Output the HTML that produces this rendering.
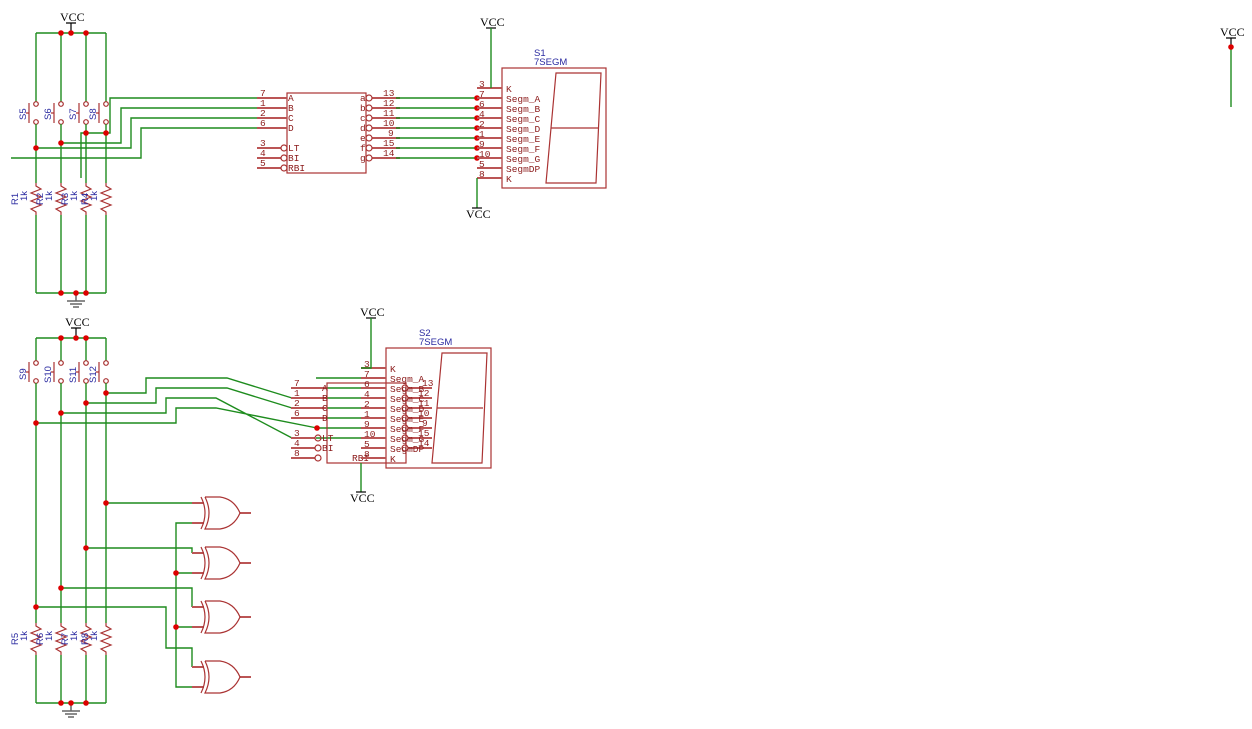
<!DOCTYPE html>
<html><head><meta charset="utf-8"><style>
html,body{margin:0;padding:0;background:#fff;}
svg{display:block;font-family:"Liberation Mono",monospace;}
.w{stroke:#1e8c1e;stroke-width:1.4;fill:none;}
.r{stroke:#a33;stroke-width:1.2;fill:none;}
.rl{stroke:#b55;stroke-width:2;fill:none;}
.k{stroke:#000;stroke-width:1.2;fill:none;}
.t{font-size:9.5px;fill:#8b1a1a;}
.v{font-family:"Liberation Serif",serif;font-size:12px;fill:#000;}
.b{font-family:"Liberation Sans",sans-serif;font-size:9.5px;fill:#2a2aa0;}
.d{fill:#d00;}
</style></head><body>
<svg width="1252" height="729" viewBox="0 0 1252 729" xmlns="http://www.w3.org/2000/svg">
<defs>
<g id="res"><path class="r" d="M0,0 V3 L5,6 L-5,10 L5,14 L-5,18 L5,22 L-5,26 L0,29 V32"/></g>
<g id="sw"><circle class="r" cx="0" cy="0" r="2.3" fill="#fff"/><circle class="r" cx="0" cy="18" r="2.3" fill="#fff"/><path class="r" d="M-7,-1 V19 M-10,9 H-7"/></g>
<g id="xor"><path class="rl" d="M0,-10 H12 M0,10 H12 M48,0 H59"/><path class="r" d="M9,-16 Q17,0 9,16 M13,-16 H28 Q42,-14 48,0 Q42,14 28,16 H13 Q21,0 13,-16"/></g>
<g id="gnd"><path d="M0,0 V8 M-9,8 H9 M-6,11 H6 M-3,14 H3" stroke="#666" stroke-width="1.5" fill="none"/></g>
</defs>

<!-- ===== TOP SECTION ===== -->
<text class="v" x="60" y="21">VCC</text>
<path class="k" d="M71,23 V33 M66,23 H76"/>
<path class="w" d="M36,33 H106 M36,33 V102 M61,33 V102 M86,33 V102 M106,33 V102"/>
<use href="#sw" x="36" y="104"/><use href="#sw" x="61" y="104"/><use href="#sw" x="86" y="104"/><use href="#sw" x="106" y="104"/>
<g class="b"><text transform="translate(26,120) rotate(-90)">S5</text><text transform="translate(51,120) rotate(-90)">S6</text><text transform="translate(76,120) rotate(-90)">S7</text><text transform="translate(96,120) rotate(-90)">S8</text></g>
<path class="w" d="M36,124 V183 M61,124 V183 M86,124 V183 M106,124 V183"/>
<use href="#res" x="36" y="183"/><use href="#res" x="61" y="183"/><use href="#res" x="86" y="183"/><use href="#res" x="106" y="183"/>
<g class="b"><text transform="translate(18,205) rotate(-90)">R1</text><text transform="translate(27,201) rotate(-90)">1k</text><text transform="translate(43,205) rotate(-90)">R2</text><text transform="translate(52,201) rotate(-90)">1k</text><text transform="translate(68,205) rotate(-90)">R3</text><text transform="translate(77,201) rotate(-90)">1k</text><text transform="translate(88,205) rotate(-90)">R4</text><text transform="translate(97,201) rotate(-90)">1k</text></g>
<path class="w" d="M36,215 V293 M61,215 V293 M86,215 V293 M106,215 V293 M36,293 H106"/>
<use href="#gnd" x="76" y="293"/>
<!-- bcd wires -->
<path class="w" d="M81,178 V133 H110 V98 H257 M61,143 H121 V108 H257 M36,148 H131 V118 H257 M11,158 H141 V128 H257"/>
<g class="d"><circle cx="61" cy="33" r="2.8"/><circle cx="71" cy="33" r="2.8"/><circle cx="86" cy="33" r="2.8"/><circle cx="86" cy="133" r="2.8"/><circle cx="106" cy="133" r="2.8"/><circle cx="61" cy="143" r="2.8"/><circle cx="36" cy="148" r="2.8"/><circle cx="61" cy="293" r="2.8"/><circle cx="76" cy="293" r="2.8"/><circle cx="86" cy="293" r="2.8"/></g>
<!-- IC1 -->
<rect class="r" x="287" y="93" width="79" height="80"/>
<path class="rl" d="M257,98 H287 M257,108 H287 M257,118 H287 M257,128 H287 M257,148 H281 M257,158 H281 M257,168 H281 M372,98 H400 M372,108 H400 M372,118 H400 M372,128 H400 M372,138 H400 M372,148 H400 M372,158 H400"/>
<g class="r" fill="#fff"><circle cx="284" cy="148" r="3"/><circle cx="284" cy="158" r="3"/><circle cx="284" cy="168" r="3"/><circle cx="369" cy="98" r="3"/><circle cx="369" cy="108" r="3"/><circle cx="369" cy="118" r="3"/><circle cx="369" cy="128" r="3"/><circle cx="369" cy="138" r="3"/><circle cx="369" cy="148" r="3"/><circle cx="369" cy="158" r="3"/></g>
<g class="t"><text x="260" y="96">7</text><text x="260" y="106">1</text><text x="260" y="116">2</text><text x="260" y="126">6</text><text x="260" y="146">3</text><text x="260" y="156">4</text><text x="260" y="166">5</text>
<text x="288" y="101">A</text><text x="288" y="111">B</text><text x="288" y="121">C</text><text x="288" y="131">D</text><text x="288" y="151">LT</text><text x="288" y="161">BI</text><text x="288" y="171">RBI</text>
<text x="360" y="101">a</text><text x="360" y="111">b</text><text x="360" y="121">c</text><text x="360" y="131">d</text><text x="360" y="141">e</text><text x="360" y="151">f</text><text x="360" y="161">g</text>
<text x="383" y="96">13</text><text x="383" y="106">12</text><text x="383" y="116">11</text><text x="383" y="126">10</text><text x="388" y="136">9</text><text x="383" y="146">15</text><text x="383" y="156">14</text></g>
<path class="w" d="M396,98 H477 M396,108 H477 M396,118 H477 M396,128 H477 M396,138 H477 M396,148 H477 M396,158 H477"/>
<g class="d"><circle cx="477" cy="98" r="2.8"/><circle cx="477" cy="108" r="2.8"/><circle cx="477" cy="118" r="2.8"/><circle cx="477" cy="128" r="2.8"/><circle cx="477" cy="138" r="2.8"/><circle cx="477" cy="148" r="2.8"/><circle cx="477" cy="158" r="2.8"/></g>
<!-- S1 -->
<text class="b" x="534" y="56">S1</text><text class="b" x="534" y="65">7SEGM</text>
<rect class="r" x="502" y="68" width="104" height="120"/>
<path class="r" d="M556,73 H601 L596,183 H546 Z M551,128 H598"/>
<path class="rl" d="M477,88 H502 M477,98 H502 M477,108 H502 M477,118 H502 M477,128 H502 M477,138 H502 M477,148 H502 M477,158 H502 M477,168 H502 M477,178 H502"/>
<g class="t"><text x="479" y="87">3</text><text x="479" y="97">7</text><text x="479" y="107">6</text><text x="479" y="117">4</text><text x="479" y="127">2</text><text x="479" y="137">1</text><text x="479" y="147">9</text><text x="479" y="157">10</text><text x="479" y="167">5</text><text x="479" y="177">8</text>
<text x="506" y="92">K</text><text x="506" y="102">Segm_A</text><text x="506" y="112">Segm_B</text><text x="506" y="122">Segm_C</text><text x="506" y="132">Segm_D</text><text x="506" y="142">Segm_E</text><text x="506" y="152">Segm_F</text><text x="506" y="162">Segm_G</text><text x="506" y="172">SegmDP</text><text x="506" y="182">K</text></g>
<text class="v" x="480" y="26">VCC</text><path class="k" d="M486,28 H496"/><path class="w" d="M491,28 V88"/>
<path class="w" d="M477,178 V208"/><path class="k" d="M472,208 H482"/><text class="v" x="466" y="218">VCC</text>
<!-- far right -->
<text class="v" x="1220" y="36">VCC</text><path class="k" d="M1226,38 H1236 M1231,38 V46"/><path class="w" d="M1231,47 V107"/><circle class="d" cx="1231" cy="47" r="2.8"/>

<!-- ===== BOTTOM SECTION ===== -->
<text class="v" x="65" y="326">VCC</text>
<path class="k" d="M76,328 V338 M71,328 H81"/>
<path class="w" d="M36,338 H106 M36,338 V361 M61,338 V361 M86,338 V361 M106,338 V361"/>
<use href="#sw" x="36" y="363"/><use href="#sw" x="61" y="363"/><use href="#sw" x="86" y="363"/><use href="#sw" x="106" y="363"/>
<g class="b"><text transform="translate(26,380) rotate(-90)">S9</text><text transform="translate(51,383) rotate(-90)">S10</text><text transform="translate(76,383) rotate(-90)">S11</text><text transform="translate(96,383) rotate(-90)">S12</text></g>
<path class="w" d="M36,383 V623 M61,383 V623 M86,383 V623 M106,383 V623"/>
<use href="#res" x="36" y="623"/><use href="#res" x="61" y="623"/><use href="#res" x="86" y="623"/><use href="#res" x="106" y="623"/>
<g class="b"><text transform="translate(18,645) rotate(-90)">R5</text><text transform="translate(27,641) rotate(-90)">1k</text><text transform="translate(43,645) rotate(-90)">R6</text><text transform="translate(52,641) rotate(-90)">1k</text><text transform="translate(68,645) rotate(-90)">R7</text><text transform="translate(77,641) rotate(-90)">1k</text><text transform="translate(88,645) rotate(-90)">R8</text><text transform="translate(97,641) rotate(-90)">1k</text></g>
<path class="w" d="M36,655 V703 M61,655 V703 M86,655 V703 M106,655 V703 M36,703 H106"/>
<use href="#gnd" x="71" y="703"/>
<path class="w" d="M106,393 H146 V378 H227 L292,398 M86,403 H156 V388 H227 L292,408 M61,413 H166 V398 H216 L292,438 M36,423 H176 V408 H216 L317,428"/>
<path class="w" d="M316,378 H361 M316,388 H361 M316,398 H361 M316,408 H361 M316,418 H361 M316,428 H361 M316,438 H361"/>
<!-- xor wires -->
<path class="w" d="M106,503 H192 M86,548 H192 V553 M61,588 H192 V607 M36,607 H166 V648 H192 V667 M192,523 H176 V687 H192 M176,573 H192 M176,627 H192"/>
<use href="#xor" x="192" y="513"/><use href="#xor" x="192" y="563"/><use href="#xor" x="192" y="617"/><use href="#xor" x="192" y="677"/>
<g class="d"><circle cx="61" cy="338" r="2.8"/><circle cx="76" cy="338" r="2.8"/><circle cx="86" cy="338" r="2.8"/><circle cx="106" cy="393" r="2.8"/><circle cx="86" cy="403" r="2.8"/><circle cx="61" cy="413" r="2.8"/><circle cx="36" cy="423" r="2.8"/><circle cx="317" cy="428" r="2.8"/><circle cx="106" cy="503" r="2.8"/><circle cx="86" cy="548" r="2.8"/><circle cx="61" cy="588" r="2.8"/><circle cx="36" cy="607" r="2.8"/><circle cx="176" cy="573" r="2.8"/><circle cx="176" cy="627" r="2.8"/><circle cx="61" cy="703" r="2.8"/><circle cx="71" cy="703" r="2.8"/><circle cx="86" cy="703" r="2.8"/></g>
<!-- IC2 -->
<rect class="r" x="327" y="383" width="79" height="80"/>
<path class="rl" d="M291,388 H327 M291,398 H327 M291,408 H327 M291,418 H327 M291,438 H315 M291,448 H315 M291,458 H315 M408,388 H432 M408,398 H432 M408,408 H432 M408,418 H432 M408,428 H432 M408,438 H432 M408,448 H432"/>
<g class="r" fill="#fff"><circle cx="318" cy="438" r="3"/><circle cx="318" cy="448" r="3"/><circle cx="318" cy="458" r="3"/><circle cx="405" cy="388" r="3"/><circle cx="405" cy="398" r="3"/><circle cx="405" cy="408" r="3"/><circle cx="405" cy="418" r="3"/><circle cx="405" cy="428" r="3"/><circle cx="405" cy="438" r="3"/><circle cx="405" cy="448" r="3"/></g>
<g class="t"><text x="294" y="386">7</text><text x="294" y="396">1</text><text x="294" y="406">2</text><text x="294" y="416">6</text><text x="294" y="436">3</text><text x="294" y="446">4</text><text x="294" y="456">8</text>
<text x="322" y="391">A</text><text x="322" y="401">B</text><text x="322" y="411">C</text><text x="322" y="421">D</text><text x="322" y="441">LT</text><text x="322" y="451">BI</text><text x="352" y="461">RBI</text>
<text x="422" y="386">13</text><text x="418" y="396">12</text><text x="418" y="406">11</text><text x="418" y="416">10</text><text x="422" y="426">9</text><text x="418" y="436">15</text><text x="418" y="446">14</text></g>
<!-- S2 -->
<text class="b" x="419" y="336">S2</text><text class="b" x="419" y="345">7SEGM</text>
<rect class="r" x="386" y="348" width="105" height="120"/>
<path class="r" d="M442,353 H487 L482,463 H432 Z M437,408 H483"/>
<path class="rl" d="M361,368 H386 M361,378 H386 M361,388 H386 M361,398 H386 M361,408 H386 M361,418 H386 M361,428 H386 M361,438 H386 M361,448 H386 M361,458 H386"/>
<g class="t"><text x="364" y="367">3</text><text x="364" y="377">7</text><text x="364" y="387">6</text><text x="364" y="397">4</text><text x="364" y="407">2</text><text x="364" y="417">1</text><text x="364" y="427">9</text><text x="364" y="437">10</text><text x="364" y="447">5</text><text x="364" y="457">8</text>
<text x="390" y="372">K</text><text x="390" y="382">Segm_A</text><text x="390" y="392">Segm_B</text><text x="390" y="402">Segm_C</text><text x="390" y="412">Segm_D</text><text x="390" y="422">Segm_E</text><text x="390" y="432">Segm_F</text><text x="390" y="442">Segm_G</text><text x="390" y="452">SegmDP</text><text x="390" y="462">K</text></g>
<text class="v" x="360" y="316">VCC</text><path class="k" d="M366,318 H376"/><path class="w" d="M371,318 V368 H361"/>
<path class="w" d="M361,463 V492"/><path class="k" d="M356,492 H366"/><text class="v" x="350" y="502">VCC</text>
</svg>
</body></html>
